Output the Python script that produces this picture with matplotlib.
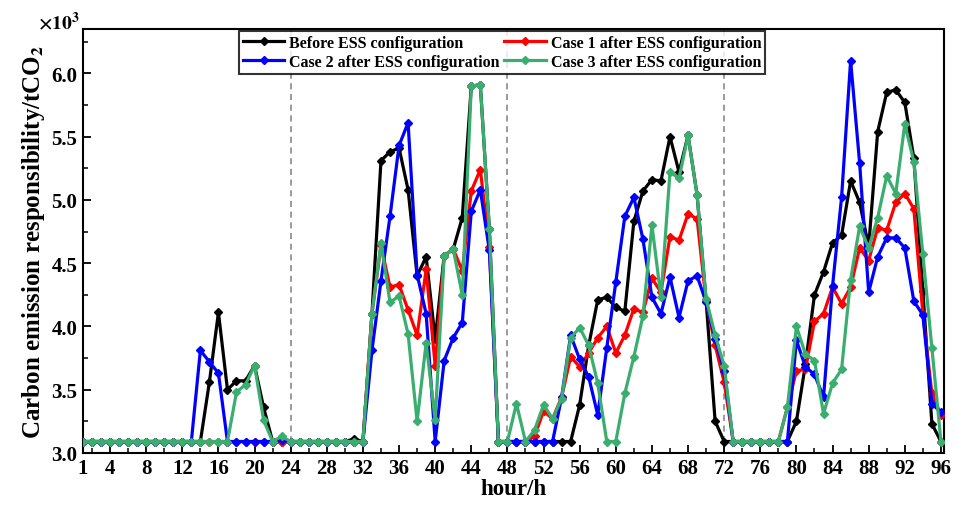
import matplotlib
matplotlib.use("Agg")
import matplotlib.pyplot as plt
from matplotlib.ticker import MultipleLocator, FixedLocator, FormatStrFormatter

plt.rcParams["font.family"] = ["Liberation Serif", "DejaVu Serif"]
plt.rcParams["font.weight"] = "bold"
plt.rcParams["mathtext.fontset"] = "stix"

hours = list(range(1, 97))
B = 3.09

# Carbon emission responsibility (x10^3 tCO2), one value per hour
before_ess = (
    [B] * 14
    + [3.56, 4.11, 3.50, 3.57, 3.57, 3.69, 3.36, B, B]
    + [B] * 7 + [3.11, B]
    + [4.10, 5.31, 5.38, 5.41, 5.08, 4.40, 4.55, 3.90, 4.56, 4.61, 4.86, 5.90, 5.91, 4.77, B]
    + [B] * 8
    + [3.38, 3.85, 4.21, 4.23, 4.15, 4.12, 4.83, 5.07, 5.16, 5.15, 5.50, 5.22, 5.51, 5.04, 4.20, 3.25, B]
    + [B] * 7
    + [3.25, 3.70, 4.25, 4.43, 4.66, 4.72, 5.15, 4.98, 4.63, 5.54, 5.85, 5.87, 5.77, 5.33, 4.28, 3.23, 3.09]
)

case1 = (
    [B] * 32
    + [4.10, 4.64, 4.31, 4.33, 4.13, 3.93, 4.45, 3.69, 4.56, 4.61, 4.44, 5.07, 5.24, 4.63]
    + [B] * 4
    + [3.13, 3.33, 3.27, 3.44, 3.76, 3.68, 3.79, 3.91, 4.00, 3.79, 3.93, 4.14, 4.11, 4.38, 4.27,
       4.71, 4.68, 4.89, 4.85, 4.20, 3.85, 3.56]
    + [B] * 6
    + [3.36, 3.65, 3.66, 4.04, 4.10, 4.31, 4.18, 4.31, 4.62, 4.52, 4.78, 4.76, 4.98, 5.05, 4.93,
       4.10, 3.47, 3.30]
)

case2 = (
    [B] * 13
    + [3.81, 3.72, 3.63]
    + [B] * 6 + [3.10]
    + [B] * 9
    + [3.81, 4.36, 4.87, 5.43, 5.61, 4.41, 4.10, 3.09, 3.73, 3.91, 4.03, 4.91, 5.08, 4.60]
    + [B] * 7
    + [3.44, 3.93, 3.74, 3.60, 3.30, 3.83, 4.35, 4.87, 5.02, 4.69, 4.23, 4.10, 4.39, 4.07, 4.36,
       4.40, 4.19, 3.90, 3.65]
    + [B] * 7
    + [3.89, 3.68, 3.62, 3.44, 4.32, 5.02, 6.10, 5.29, 4.27, 4.55, 4.70, 4.70, 4.62, 4.20, 4.09,
       3.39, 3.32]
)

case3 = (
    [B] * 17
    + [3.48, 3.54, 3.69, 3.26, B, 3.13]
    + [B] * 9
    + [4.10, 4.66, 4.19, 4.24, 3.94, 3.25, 3.87, 3.26, 4.56, 4.61, 4.25, 5.90, 5.91, 4.77, B, B]
    + [3.39, B, 3.18, 3.38, 3.27, 3.43, 3.91, 3.99, 3.85, 3.55, B, B, 3.47, 3.76, 4.08, 4.80,
       4.23, 5.22, 5.17, 5.51, 5.04, 4.22, 3.93, 3.69]
    + [B] * 6
    + [3.36, 4.00, 3.78, 3.73, 3.31, 3.55, 3.66, 4.37, 4.79, 4.62, 4.86, 5.19, 5.05, 5.60, 5.30,
       4.57, 3.83, 3.09]
)

x_ticks = [1] + list(range(4, 97, 4))
day_splits = [24, 48, 72]

fig = plt.figure(figsize=(9.58, 5.10), dpi=100)
ax = fig.add_axes([0.0866, 0.110, 0.8984, 0.831])

for xs in day_splits:
    ax.axvline(xs, color="#808080", ls=(0, (4, 3)), lw=1.1, zorder=1)

style = dict(lw=2.3, marker="D", ms=3.6, zorder=3)
l0, = ax.plot(hours, before_ess, color="black", label="Before ESS configuration", **style)
l1, = ax.plot(hours, case1, color="#ff0000", label="Case 1 after ESS configuration", **style)
l2, = ax.plot(hours, case2, color="#0000ff", label="Case 2 after ESS configuration", **style)
l3, = ax.plot(hours, case3, color="#3aae6e", label="Case 3 after ESS configuration", **style)

ax.set_xlim(1, 96.3)
ax.set_ylim(3.0, 6.35)
ax.xaxis.set_major_locator(FixedLocator(x_ticks))
ax.xaxis.set_minor_locator(FixedLocator(list(range(2, 96, 4))))
ax.yaxis.set_major_locator(MultipleLocator(0.5))
ax.yaxis.set_minor_locator(MultipleLocator(0.25))
ax.yaxis.set_major_formatter(FormatStrFormatter("%.1f"))

ax.tick_params(which="major", direction="in", length=6, width=1.3, labelsize=15, pad=4)
ax.tick_params(which="minor", direction="in", length=3.5, width=1.1)
for lab in ax.get_xticklabels() + ax.get_yticklabels():
    lab.set_fontweight("bold")
for sp in ax.spines.values():
    sp.set_linewidth(1.5)

ax.set_xlabel("hour/h", fontsize=16.5, fontweight="bold", labelpad=0)
ax.set_ylabel(r"Carbon emission responsibility/tCO$_\mathbf{2}$", fontsize=18,
              fontweight="bold", labelpad=3)

fig.text(0.040, 0.957, r"$\mathbf{\times 10^{3}}$", fontsize=14, ha="left", va="center")

leg = ax.legend(handles=[l0, l2, l1, l3], ncol=2, loc="upper center",
                bbox_to_anchor=(0.487, 1.0), fontsize=11.5, frameon=True, fancybox=False,
                edgecolor="black", handlelength=2.6, handletextpad=0.3, columnspacing=0.3,
                borderpad=0.25, labelspacing=0.2, borderaxespad=0.1)
leg.get_frame().set_linewidth(1.5)
for t in leg.get_texts():
    t.set_fontweight("bold")

fig.savefig("out.png", dpi=100)
